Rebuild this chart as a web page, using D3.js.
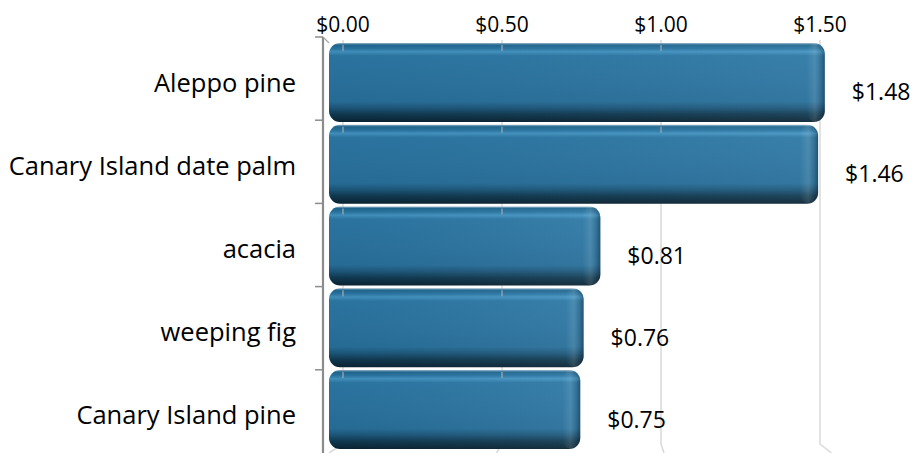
<!DOCTYPE html>
<html>
<head>
<meta charset="utf-8">
<script src="https://cdn.jsdelivr.net/npm/d3@7"></script>
<style>
  html, body { margin: 0; padding: 0; background: #fff; }
  svg { display: block; font-family: "Open Sans", sans-serif; }
</style>
</head>
<body>
<svg id="chart" width="912" height="453"></svg>
<script>
// Average cost per tree species
const categories = ["Aleppo pine", "Canary Island date palm", "acacia", "weeping fig", "Canary Island pine"];
const values = [1.48, 1.46, 0.81, 0.76, 0.75];
const tickValues = [0, 0.5, 1.0, 1.5];
const fmt = d => "$" + d3.format(".2f")(d);

const svg = d3.select("#chart");
const W = 912, H = 453;

// The chart is drawn in 3D perspective: the back wall carries the grid and the
// axis labels, while the bars sit on a slightly different front plane.
const backX = d3.scaleLinear().domain([0, 1.5]).range([343, 820]);
const frontX = d3.scaleLinear().domain([0, 1.5]).range([329, 831.5]);
const backY = d3.scaleBand().domain(categories).range([37, 453]).paddingInner(0).paddingOuter(0);
const frontY = d3.scaleBand().domain(categories).range([43, 449]).paddingInner(0.034).paddingOuter(0);
const axisX = 323;

const defs = svg.append("defs");

// bevelled bar body: vertical shading
const gBody = defs.append("linearGradient").attr("id", "barBody")
  .attr("x1", 0).attr("y1", 0).attr("x2", 0).attr("y2", 1);
[
  [0, "#9dbbd0"], [0.025, "#1f6790"], [0.07, "#2a76a3"], [0.11, "#4293c1"],
  [0.16, "#2c78a5"], [0.5, "#2a73a0"], [0.74, "#276f9a"], [0.82, "#1d587c"],
  [0.9, "#103a52"], [1, "#0a2333"]
].forEach(([o, c]) => gBody.append("stop").attr("offset", o).attr("stop-color", c));

// slight brightening toward the bar end
const gSheen = defs.append("linearGradient").attr("id", "barSheen")
  .attr("x1", 0).attr("y1", 0).attr("x2", 1).attr("y2", 0);
gSheen.append("stop").attr("offset", 0).attr("stop-color", "#000").attr("stop-opacity", 0.04);
gSheen.append("stop").attr("offset", 1).attr("stop-color", "#fff").attr("stop-opacity", 0.06);

// rounded end cap
const gCap = defs.append("linearGradient").attr("id", "barCap")
  .attr("x1", 0).attr("y1", 0).attr("x2", 1).attr("y2", 0);
gCap.append("stop").attr("offset", 0).attr("stop-color", "#fff").attr("stop-opacity", 0);
gCap.append("stop").attr("offset", 0.45).attr("stop-color", "#fff").attr("stop-opacity", 0.10);
gCap.append("stop").attr("offset", 0.8).attr("stop-color", "#000").attr("stop-opacity", 0.12);
gCap.append("stop").attr("offset", 1).attr("stop-color", "#000").attr("stop-opacity", 0.35);

// back-wall gridlines, bending onto the floor at the bottom
const floorTop = 444;
const grid = svg.append("g").attr("class", "grid");
grid.selectAll("path").data(tickValues).join("path")
  .attr("d", d => `M${backX(d)},40 L${backX(d)},${floorTop} L${frontX(d)},${H}`)
  .attr("fill", "none")
  .attr("stroke", "#d9d9d9")
  .attr("stroke-width", 1.5);

// value axis labels along the top
svg.append("g").selectAll("text").data(tickValues).join("text")
  .attr("x", d => backX(d))
  .attr("y", 24)
  .attr("text-anchor", "middle")
  .attr("dominant-baseline", "central")
  .attr("font-size", 21)
  .attr("fill", "#000")
  .text(fmt);

// bars
const bars = svg.append("g").attr("class", "bars");
const bar = bars.selectAll("g").data(categories.map((c, i) => ({ c, v: values[i] }))).join("g");
bar.append("rect")
  .attr("x", frontX(0))
  .attr("y", d => frontY(d.c))
  .attr("width", d => frontX(d.v) - frontX(0))
  .attr("height", frontY.bandwidth())
  .attr("rx", 11).attr("ry", 11)
  .attr("fill", "url(#barBody)");
bar.append("rect")
  .attr("x", frontX(0))
  .attr("y", d => frontY(d.c))
  .attr("width", d => frontX(d.v) - frontX(0))
  .attr("height", frontY.bandwidth())
  .attr("rx", 11).attr("ry", 11)
  .attr("fill", "url(#barSheen)");
bar.append("rect")
  .attr("x", d => frontX(d.v) - 18)
  .attr("y", d => frontY(d.c))
  .attr("width", 18)
  .attr("height", frontY.bandwidth())
  .attr("rx", 11).attr("ry", 11)
  .attr("fill", "url(#barCap)");

// gridlines showing through the top face of each bar
bar.each(function (d) {
  d3.select(this).selectAll("line.peek")
    .data(tickValues.filter(t => backX(t) < frontX(d.v) - 8))
    .join("line")
    .attr("class", "peek")
    .attr("x1", t => backX(t)).attr("x2", t => backX(t))
    .attr("y1", frontY(d.c) + 2).attr("y2", frontY(d.c) + 8)
    .attr("stroke", "#9aa7b0")
    .attr("stroke-width", 1.3);
});

// value labels
svg.append("g").selectAll("text").data(categories).join("text")
  .attr("x", (c, i) => frontX(values[i]) + 27)
  .attr("y", c => frontY(c) + frontY.bandwidth() / 2 + 9)
  .attr("dominant-baseline", "central")
  .attr("font-size", 23)
  .attr("fill", "#000")
  .text((c, i) => fmt(values[i]));

// category axis line, depth corner and tick marks
const axis = svg.append("g").attr("stroke", "#8c8c8c").attr("fill", "none");
axis.append("line")
  .attr("x1", axisX).attr("x2", axisX)
  .attr("y1", backY.range()[0]).attr("y2", H)
  .attr("stroke-width", 2.2);
axis.append("line")
  .attr("x1", axisX).attr("y1", backY.range()[0])
  .attr("x2", frontX(0)).attr("y2", frontY.range()[0])
  .attr("stroke-width", 1.2).attr("stroke", "#a6a6a6");
axis.selectAll("line.tick")
  .data(categories.map(c => backY(c)))
  .join("line")
  .attr("class", "tick")
  .attr("x1", axisX - 8).attr("x2", axisX)
  .attr("y1", d => d).attr("y2", d => d)
  .attr("stroke-width", 1.5);

// category labels
svg.append("g").selectAll("text").data(categories).join("text")
  .attr("x", 296)
  .attr("y", c => backY(c) + backY.bandwidth() / 2 + 3)
  .attr("text-anchor", "end")
  .attr("dominant-baseline", "central")
  .attr("font-size", 25.5)
  .attr("fill", "#000")
  .text(c => c);
</script>
</body>
</html>
